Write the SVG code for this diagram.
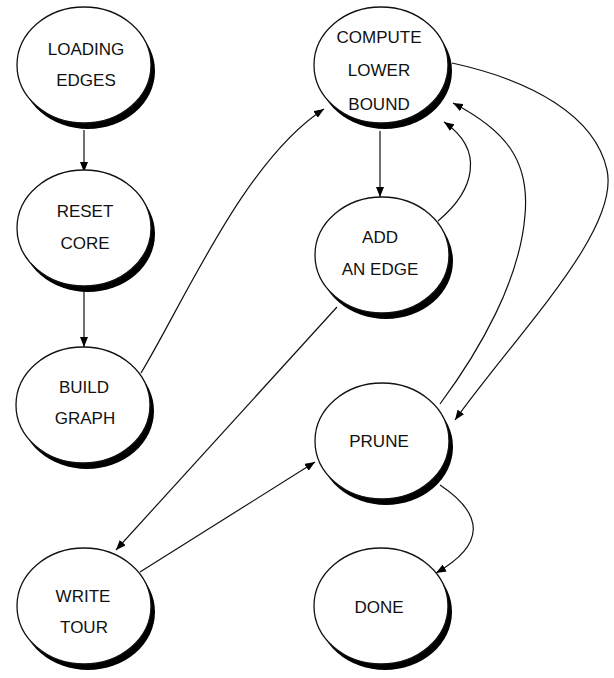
<svg xmlns="http://www.w3.org/2000/svg" width="614" height="678" viewBox="0 0 614 678">
<defs>
<style>
.shadow{fill:#000}
.disc{fill:#fff;stroke:#111;stroke-width:1.3}
.lbl{font-family:"Liberation Sans",Arial,sans-serif;font-size:17px;fill:#111;text-anchor:middle}
.edge{fill:none;stroke:#111;stroke-width:1.2}
</style>
<marker id="arr" markerUnits="userSpaceOnUse" markerWidth="11" markerHeight="8" refX="10" refY="4" orient="auto">
<path d="M0,0 L10,4 L0,8 z" fill="#000"/>
</marker>
</defs>
<rect width="614" height="678" fill="#fff"/>
<g id="connectors">
<path class="edge" marker-end="url(#arr)" d="M84,130 L84,172"/>
<path class="edge" marker-end="url(#arr)" d="M84,291 L84,347"/>
<path class="edge" marker-end="url(#arr)" d="M141,373 C185,300 245,160 324,109"/>
<path class="edge" marker-end="url(#arr)" d="M380,131 L380,197"/>
<path class="edge" marker-end="url(#arr)" d="M438,221 C475,190 485,150 444,122"/>
<path class="edge" marker-end="url(#arr)" d="M440,404 C480,350 520,280 525,215 C530,160 505,130 453,103"/>
<path class="edge" marker-end="url(#arr)" d="M452,63 C530,80 595,115 607,170 C620,230 520,330 455,420"/>
<path class="edge" marker-end="url(#arr)" d="M337,307 L116,550"/>
<path class="edge" marker-end="url(#arr)" d="M140,572 L315,462"/>
<path class="edge" marker-end="url(#arr)" d="M440,485 C485,515 485,545 436,573"/>
</g>
<g id="loading-edges">
<ellipse class="shadow" cx="88" cy="71" rx="67" ry="58"/>
<ellipse class="disc" cx="84" cy="65" rx="67" ry="58"/>
<text class="lbl" x="86" y="55">LOADING</text>
<text class="lbl" x="86" y="86">EDGES</text>
</g>
<g id="reset-core">
<ellipse class="shadow" cx="88" cy="234" rx="67" ry="58"/>
<ellipse class="disc" cx="84" cy="228" rx="67" ry="58"/>
<text class="lbl" x="85" y="217">RESET</text>
<text class="lbl" x="85" y="249">CORE</text>
</g>
<g id="build-graph">
<ellipse class="shadow" cx="87" cy="411" rx="67" ry="58"/>
<ellipse class="disc" cx="83" cy="405" rx="67" ry="58"/>
<text class="lbl" x="84" y="393">BUILD</text>
<text class="lbl" x="85" y="424">GRAPH</text>
</g>
<g id="write-tour">
<ellipse class="shadow" cx="88" cy="612" rx="67" ry="58"/>
<ellipse class="disc" cx="84" cy="606" rx="67" ry="58"/>
<text class="lbl" x="83" y="602">WRITE</text>
<text class="lbl" x="84" y="633">TOUR</text>
</g>
<g id="compute-lower-bound">
<ellipse class="shadow" cx="385" cy="71" rx="67" ry="58"/>
<ellipse class="disc" cx="381" cy="65" rx="67" ry="58"/>
<text class="lbl" x="379" y="43">COMPUTE</text>
<text class="lbl" x="379" y="76">LOWER</text>
<text class="lbl" x="379" y="110">BOUND</text>
</g>
<g id="add-an-edge">
<ellipse class="shadow" cx="386" cy="261" rx="67" ry="58"/>
<ellipse class="disc" cx="382" cy="255" rx="67" ry="58"/>
<text class="lbl" x="380" y="243">ADD</text>
<text class="lbl" x="380" y="275">AN EDGE</text>
</g>
<g id="prune">
<ellipse class="shadow" cx="386" cy="447" rx="67" ry="58"/>
<ellipse class="disc" cx="382" cy="441" rx="67" ry="58"/>
<text class="lbl" x="379" y="447">PRUNE</text>
</g>
<g id="done">
<ellipse class="shadow" cx="385" cy="612" rx="67" ry="58"/>
<ellipse class="disc" cx="381" cy="606" rx="67" ry="58"/>
<text class="lbl" x="379" y="613">DONE</text>
</g>
</svg>
